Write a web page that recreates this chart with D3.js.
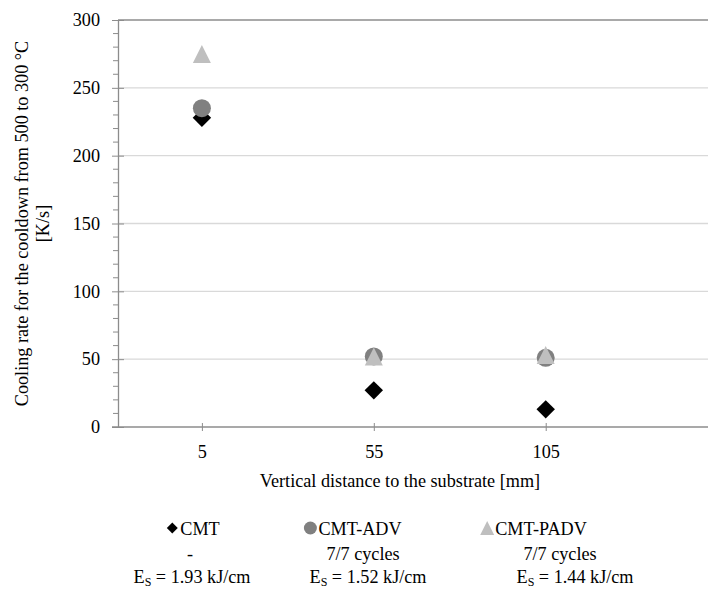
<!DOCTYPE html>
<html>
<head>
<meta charset="utf-8">
<script src="https://cdn.jsdelivr.net/npm/d3@7"></script>
<style>
  body { margin: 0; background: #fff; }
  svg text { font-family: "Liberation Serif", "Times New Roman", serif !important; fill: #000; }
</style>
</head>
<body>
<div id="chart"></div>
<script>
// Chart data
var distances = [5, 55, 105];
var cmtValues = [228, 27, 13];
var advValues = [235, 52, 51];
var padvValues = [275, 52, 53];
var yTicks = [0, 50, 100, 150, 200, 250, 300];
var seriesNames = ["CMT", "CMT-ADV", "CMT-PADV"];
var seriesLine2 = ["-", "7/7 cycles", "7/7 cycles"];
var seriesEnergy = ["1.93", "1.52", "1.44"];

var svgWidth = 708, svgHeight = 590;
var margins = { top: 20, right: 0, bottom: 163, left: 118 };
var width = svgWidth - margins.left - margins.right;
var height = svgHeight - margins.top - margins.bottom;
var fontSize = "18.2px";

var svg = d3.select("#chart").append("svg")
    .attr("width", svgWidth)
    .attr("height", svgHeight);

var chartGroup = svg.append("g")
    .attr("transform", `translate(${margins.left}, ${margins.top})`);

var xScale = d3.scaleLinear().domain([-19.4, 152.2]).range([0, width]);
var yScale = d3.scaleLinear().domain([0, 300]).range([height, 0]);

// gridlines (the 300 line is darker, like the plot border)
chartGroup.selectAll(".grid")
    .data(yTicks.filter(d => d > 0))
    .enter().append("line")
    .attr("x1", 0).attr("x2", width)
    .attr("y1", d => yScale(d)).attr("y2", d => yScale(d))
    .attr("stroke", d => d === 300 ? "#8c8c8c" : "#d9d9d9")
    .attr("stroke-width", 1.3);

// minor ticks on y axis
chartGroup.selectAll(".minor")
    .data(d3.range(0, 301, 10).filter(d => d % 50 !== 0))
    .enter().append("line")
    .attr("x1", -5).attr("x2", 0)
    .attr("y1", d => yScale(d)).attr("y2", d => yScale(d))
    .attr("stroke", "#8c8c8c");

// y axis
var leftAxis = d3.axisLeft(yScale).tickValues(yTicks).tickSizeInner(6).tickSizeOuter(0).tickPadding(12);
var yAxisG = chartGroup.append("g").call(leftAxis);
yAxisG.select(".domain").attr("stroke", "#8c8c8c").attr("stroke-width", 1.3);
yAxisG.selectAll(".tick line").attr("stroke", "#8c8c8c").attr("x2", 6).attr("x1", -6);
yAxisG.selectAll(".tick text").style("font-size", fontSize).attr("fill", "#000");

// x axis
var bottomAxis = d3.axisBottom(xScale).tickValues(distances).tickSizeInner(4).tickSizeOuter(0).tickPadding(14);
var xAxisG = chartGroup.append("g")
    .attr("transform", `translate(0, ${height})`)
    .call(bottomAxis);
xAxisG.select(".domain").attr("d", `M-6,0H${width}`).attr("stroke", "#8c8c8c").attr("stroke-width", 1.5);
xAxisG.selectAll(".tick line").attr("y1", -4).attr("y2", 4).attr("stroke", "#8c8c8c");
xAxisG.selectAll(".tick text").style("font-size", fontSize).attr("fill", "#000");

// markers
var diamond = d3.symbol().type(d3.symbolSquare).size(170);
chartGroup.selectAll(".cmt")
    .data(distances.map((d, i) => ({ x: d, y: cmtValues[i] })))
    .enter().append("path")
    .attr("d", diamond)
    .attr("transform", d => `translate(${xScale(d.x)}, ${yScale(d.y)}) rotate(45)`)
    .attr("fill", "#000");

chartGroup.selectAll(".adv")
    .data(distances.map((d, i) => ({ x: d, y: advValues[i] })))
    .enter().append("circle")
    .attr("cx", d => xScale(d.x))
    .attr("cy", d => yScale(d.y))
    .attr("r", 9)
    .attr("fill", "#808080");

chartGroup.selectAll(".padv")
    .data(distances.map((d, i) => ({ x: d, y: padvValues[i] })))
    .enter().append("path")
    .attr("d", d => { var s = 9; return `M0,${-s}L${s},${s}L${-s},${s}Z`; })
    .attr("transform", d => `translate(${xScale(d.x)}, ${yScale(d.y)})`)
    .attr("fill", "#bfbfbf");

// axis titles
var yLabels = svg.append("g")
    .attr("transform", `translate(0, ${margins.top + height / 2}) rotate(-90)`);
yLabels.append("text").attr("x", 0).attr("y", 28).attr("text-anchor", "middle")
    .style("font-size", fontSize).text("Cooling rate for the cooldown from 500 to 300 °C");
yLabels.append("text").attr("x", 0).attr("y", 49).attr("text-anchor", "middle")
    .style("font-size", fontSize).text("[K/s]");

svg.append("text")
    .attr("x", 400).attr("y", 487)
    .attr("text-anchor", "middle")
    .style("font-size", fontSize)
    .text("Vertical distance to the substrate [mm]");

// legend
var legendCenters = [190, 363, 560];
var energyCenters = [192, 368, 575];
var line1Centers = [192, 352, 533];
var markerColors = ["#000", "#808080", "#bfbfbf"];
var legend = svg.append("g");
seriesNames.forEach(function(name, i) {
    var t = legend.append("text")
        .attr("x", line1Centers[i] + 8).attr("y", 535)
        .attr("text-anchor", "middle")
        .style("font-size", fontSize)
        .text(name);
    var bb = t.node().getBBox();
    var mx = bb.x - 8, my = 528;
    if (i === 0) {
        legend.append("path").attr("d", d3.symbol().type(d3.symbolSquare).size(60))
            .attr("transform", `translate(${mx}, ${my}) rotate(45)`).attr("fill", markerColors[i]);
    } else if (i === 1) {
        legend.append("circle").attr("cx", mx).attr("cy", my).attr("r", 6.5).attr("fill", markerColors[i]);
    } else {
        legend.append("path").attr("d", "M0,-7L7,7L-7,7Z")
            .attr("transform", `translate(${mx}, ${my})`).attr("fill", markerColors[i]);
    }
    legend.append("text")
        .attr("x", legendCenters[i]).attr("y", 560)
        .attr("text-anchor", "middle")
        .style("font-size", fontSize)
        .text(seriesLine2[i]);
    var e = legend.append("text")
        .attr("x", energyCenters[i]).attr("y", 583)
        .attr("text-anchor", "middle")
        .style("font-size", fontSize);
    e.append("tspan").text("E");
    e.append("tspan").attr("dy", 3).style("font-size", "12px").text("S");
    e.append("tspan").attr("dy", -3).text(" = " + seriesEnergy[i] + " kJ/cm");
});
</script>
</body>
</html>
